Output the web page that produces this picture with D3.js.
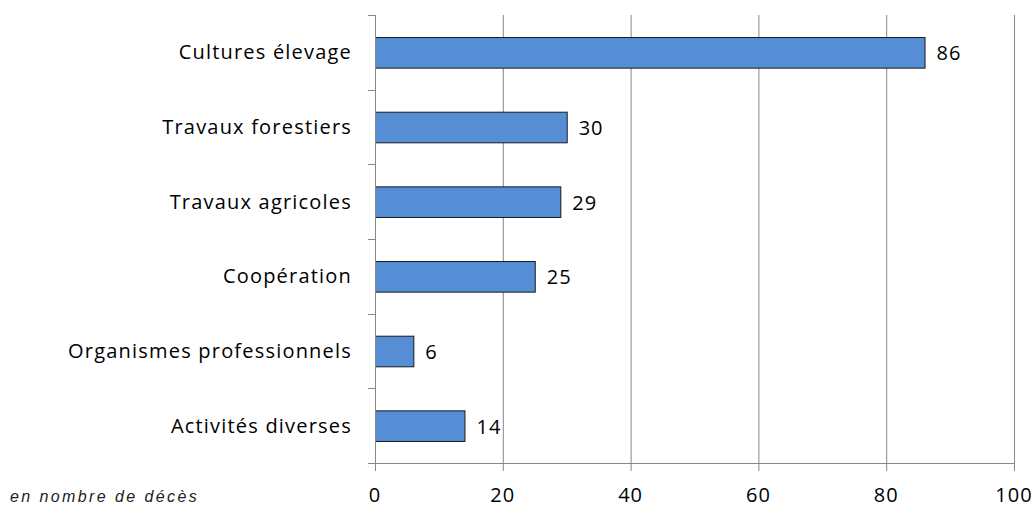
<!DOCTYPE html>
<html><head><meta charset="utf-8">
<script src="https://cdn.jsdelivr.net/npm/d3@7"></script>
<style>body{margin:0;background:#fff}</style>
</head><body>
<svg id="c" width="1033" height="507"></svg>
<script>
const categories = ["Cultures élevage","Travaux forestiers","Travaux agricoles","Coopération","Organismes professionnels","Activités diverses"];
const values = [86,30,29,25,6,14];
const xTicks = [0,20,40,60,80,100];
const note = "en nombre de décès";

const svg = d3.select("#c");
const m = {left:375, right:1014, top:15, bottom:463};
const x = d3.scaleLinear().domain([0,100]).range([m.left, m.right]);
const y = d3.scaleBand().domain(categories).range([m.top, m.bottom]).paddingInner(0.59).paddingOuter(0.295);
const font = "'Open Sans', 'Liberation Sans', Arial, sans-serif";
const grey = "#868686";

// gridlines
svg.append("g").selectAll("line").data(xTicks.slice(1)).join("line")
  .attr("x1", d=>x(d)+0.5).attr("x2", d=>x(d)+0.5)
  .attr("y1", m.top).attr("y2", m.bottom+8)
  .attr("stroke", grey).attr("stroke-width",1);

// bars
svg.append("g").selectAll("rect").data(values).join("rect")
  .attr("x", x(0)+0.5).attr("y", (d,i)=>y(categories[i])+0.5)
  .attr("width", d=>x(d)-x(0)).attr("height", y.bandwidth())
  .attr("fill", "#558ed5").attr("stroke", "#1a1a1a").attr("stroke-width",1);

// y axis
const yBounds = d3.range(categories.length+1).map(i => m.top + i*(m.bottom-m.top)/categories.length);
svg.append("line").attr("x1", m.left+0.5).attr("x2", m.left+0.5).attr("y1", m.top).attr("y2", m.bottom+8)
  .attr("stroke", grey);
svg.append("g").selectAll("line").data(yBounds).join("line")
  .attr("x1", m.left-7).attr("x2", m.left).attr("y1", d=>Math.round(d)+0.5).attr("y2", d=>Math.round(d)+0.5)
  .attr("stroke", grey);
// x axis
svg.append("line").attr("x1", m.left-7).attr("x2", m.right+1).attr("y1", m.bottom+0.5).attr("y2", m.bottom+0.5)
  .attr("stroke", grey);

// x tick labels
svg.append("g").selectAll("text").data(xTicks).join("text")
  .attr("x", d=>x(d)).attr("y", 502).attr("text-anchor","middle")
  .attr("font-family", font).attr("font-size", 20).attr("letter-spacing", 1).attr("fill","#000").text(d=>d);

// category labels
svg.append("g").selectAll("text").data(categories).join("text")
  .attr("x", 352).attr("y", d=>y(d)+y.bandwidth()/2+7).attr("text-anchor","end")
  .attr("font-family", font).attr("font-size", 20).attr("letter-spacing", 1.2).attr("fill","#000").text(d=>d);

// value labels
svg.append("g").selectAll("text").data(values).join("text")
  .attr("x", d=>x(d)+12).attr("y", (d,i)=>y(categories[i])+y.bandwidth()/2+8)
  .attr("font-family", font).attr("font-size", 20).attr("letter-spacing", 1).attr("fill","#000").text(d=>d);

svg.append("text").attr("x", 10).attr("y", 502).attr("font-family", "'Liberation Sans', Arial, sans-serif")
  .attr("font-style","italic").attr("font-size", 16).attr("letter-spacing", 2.4).attr("fill","#222").text(note);
</script>
</body></html>
